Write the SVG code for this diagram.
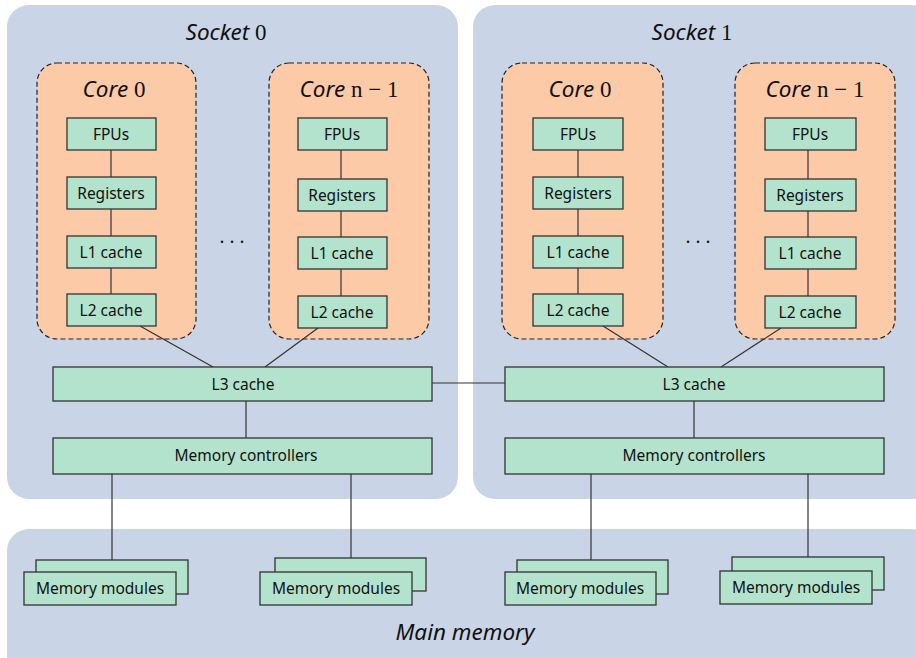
<svg xmlns="http://www.w3.org/2000/svg" width="916" height="658" viewBox="0 0 916 658">
<style>
.region{fill:#c9d4e6;}
.core{fill:#fdcaa8;stroke:#222;stroke-width:1.2;stroke-dasharray:5,3;}
.box{fill:#b3e2cd;stroke:#333;stroke-width:1.3;}
.lbl{font-family:"Noto Sans","Open Sans",sans-serif;font-size:15.5px;fill:#111;text-anchor:middle;}
.ttl{font-family:"Noto Sans","Open Sans",sans-serif;font-style:italic;font-size:22.5px;fill:#111;text-anchor:middle;}
.math{font-family:"Liberation Serif","DejaVu Serif",serif;font-style:normal;font-size:23px;}
.conn line{stroke:#333;stroke-width:1.2;}
.dots{font-family:"Liberation Serif",serif;font-size:20px;fill:#111;text-anchor:middle;}
</style>
<g id="socket0">
<rect class="region" x="7" y="5" width="451" height="494" rx="22"/>
<text class="ttl" x="226" y="40">Socket <tspan class="math">0</tspan></text>
<text class="dots" x="232" y="243">. . .</text>
</g>
<g id="socket1">
<rect class="region" x="473" y="5" width="460" height="494" rx="22"/>
<text class="ttl" x="692" y="40">Socket <tspan class="math">1</tspan></text>
<text class="dots" x="698" y="243">. . .</text>
</g>
<g id="mainmem">
<rect class="region" x="7" y="529" width="926" height="150" rx="22"/>
<text class="ttl" x="465" y="640">Main memory</text>
</g>
<g id="s0core0">
<rect class="core" x="37" y="63" width="159" height="276" rx="20"/>
<text class="ttl" x="114" y="97">Core <tspan class="math">0</tspan></text>
</g>
<g id="s0coren">
<rect class="core" x="269" y="63" width="160" height="276" rx="20"/>
<text class="ttl" x="349" y="97">Core <tspan class="math">n − 1</tspan></text>
</g>
<g id="s1core0">
<rect class="core" x="502" y="63" width="161" height="276" rx="20"/>
<text class="ttl" x="580" y="97">Core <tspan class="math">0</tspan></text>
</g>
<g id="s1coren">
<rect class="core" x="735" y="63" width="160" height="276" rx="20"/>
<text class="ttl" x="815" y="97">Core <tspan class="math">n − 1</tspan></text>
</g>
<g id="conn" class="conn">
<line x1="111" y1="150" x2="111" y2="177"/>
<line x1="111" y1="209" x2="111" y2="236"/>
<line x1="111" y1="268" x2="111" y2="294"/>
<line x1="341" y1="150" x2="341" y2="179"/>
<line x1="341" y1="211" x2="341" y2="237"/>
<line x1="341" y1="269" x2="341" y2="296"/>
<line x1="578" y1="150" x2="578" y2="177"/>
<line x1="578" y1="209" x2="578" y2="236"/>
<line x1="578" y1="268" x2="578" y2="294"/>
<line x1="808" y1="150" x2="808" y2="179"/>
<line x1="808" y1="211" x2="808" y2="237"/>
<line x1="808" y1="269" x2="808" y2="296"/>
<line x1="140" y1="326" x2="213" y2="367"/>
<line x1="318" y1="328" x2="265" y2="367"/>
<line x1="603" y1="326" x2="668" y2="367"/>
<line x1="781" y1="328" x2="721" y2="367"/>
<line x1="432" y1="383" x2="505" y2="383"/>
<line x1="246" y1="401" x2="246" y2="438"/>
<line x1="694" y1="401" x2="694" y2="438"/>
<line x1="112" y1="474" x2="112" y2="560"/>
<line x1="351" y1="474" x2="351" y2="558"/>
<line x1="591" y1="474" x2="591" y2="560"/>
<line x1="808" y1="474" x2="808" y2="557"/>
</g>
<g id="s0c0-fpu"><rect class="box" x="67" y="118" width="89" height="32"/><text class="lbl" x="111" y="139.5">FPUs</text></g>
<g id="s0c0-reg"><rect class="box" x="67" y="177" width="89" height="32"/><text class="lbl" x="111" y="198.5">Registers</text></g>
<g id="s0c0-l1"><rect class="box" x="67" y="236" width="89" height="32"/><text class="lbl" x="111" y="257.5">L1 cache</text></g>
<g id="s0c0-l2"><rect class="box" x="67" y="294" width="89" height="32"/><text class="lbl" x="111" y="315.5">L2 cache</text></g>
<g id="s0cn-fpu"><rect class="box" x="298" y="118" width="89" height="32"/><text class="lbl" x="342" y="139.5">FPUs</text></g>
<g id="s0cn-reg"><rect class="box" x="298" y="179" width="89" height="32"/><text class="lbl" x="342" y="200.5">Registers</text></g>
<g id="s0cn-l1"><rect class="box" x="298" y="237" width="89" height="32"/><text class="lbl" x="342" y="258.5">L1 cache</text></g>
<g id="s0cn-l2"><rect class="box" x="298" y="296" width="89" height="32"/><text class="lbl" x="342" y="317.5">L2 cache</text></g>
<g id="s1c0-fpu"><rect class="box" x="533" y="118" width="90" height="32"/><text class="lbl" x="578" y="139.5">FPUs</text></g>
<g id="s1c0-reg"><rect class="box" x="533" y="177" width="90" height="32"/><text class="lbl" x="578" y="198.5">Registers</text></g>
<g id="s1c0-l1"><rect class="box" x="533" y="236" width="90" height="32"/><text class="lbl" x="578" y="257.5">L1 cache</text></g>
<g id="s1c0-l2"><rect class="box" x="533" y="294" width="90" height="32"/><text class="lbl" x="578" y="315.5">L2 cache</text></g>
<g id="s1cn-fpu"><rect class="box" x="765" y="118" width="91" height="32"/><text class="lbl" x="810" y="139.5">FPUs</text></g>
<g id="s1cn-reg"><rect class="box" x="765" y="179" width="91" height="32"/><text class="lbl" x="810" y="200.5">Registers</text></g>
<g id="s1cn-l1"><rect class="box" x="765" y="237" width="91" height="32"/><text class="lbl" x="810" y="258.5">L1 cache</text></g>
<g id="s1cn-l2"><rect class="box" x="765" y="296" width="91" height="32"/><text class="lbl" x="810" y="317.5">L2 cache</text></g>
<g id="s0-l3"><rect class="box" x="53" y="367" width="379" height="34"/><text class="lbl" x="243" y="389.5">L3 cache</text></g>
<g id="s0-mc"><rect class="box" x="53" y="438" width="379" height="36"/><text class="lbl" x="246" y="460.5">Memory controllers</text></g>
<g id="s1-l3"><rect class="box" x="505" y="367" width="379" height="34"/><text class="lbl" x="694" y="389.5">L3 cache</text></g>
<g id="s1-mc"><rect class="box" x="505" y="438" width="379" height="36"/><text class="lbl" x="694" y="460.5">Memory controllers</text></g>
<g id="mm0"><rect class="box" x="36" y="560" width="152" height="34"/><rect class="box" x="24" y="572" width="152" height="33"/><text class="lbl" x="100" y="593.5">Memory modules</text></g>
<g id="mm1"><rect class="box" x="275" y="558" width="151" height="33"/><rect class="box" x="260" y="572" width="152" height="33"/><text class="lbl" x="336" y="593.5">Memory modules</text></g>
<g id="mm2"><rect class="box" x="517" y="560" width="151" height="34"/><rect class="box" x="505" y="572" width="151" height="33"/><text class="lbl" x="580" y="593.5">Memory modules</text></g>
<g id="mm3"><rect class="box" x="732" y="557" width="152" height="33"/><rect class="box" x="720" y="571" width="152" height="33"/><text class="lbl" x="796" y="592.5">Memory modules</text></g>
</svg>
